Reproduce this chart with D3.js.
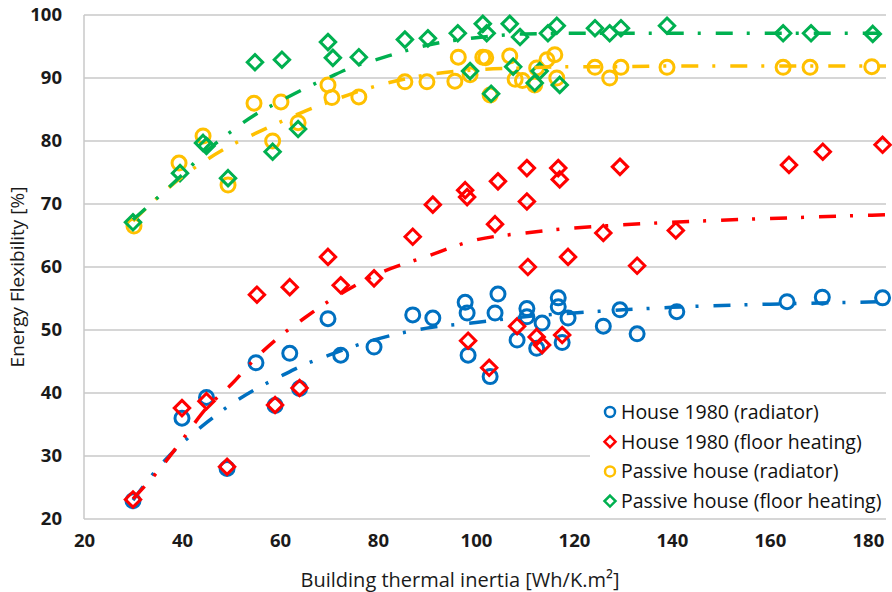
<!DOCTYPE html>
<html>
<head>
<meta charset="utf-8">
<script src="https://cdn.jsdelivr.net/npm/d3@7"></script>
<style>
  body { margin: 0; background: #fff; }
  svg { display: block; font-family: "Open Sans", sans-serif; }
</style>
</head>
<body>
<div id="chart"></div>
<script>
// Werte
const seriesNames = ["House 1980 (radiator)", "House 1980 (floor heating)", "Passive house (radiator)", "Passive house (floor heating)"];
const seriesColors = ["#0070C0", "#FF0000", "#FFC000", "#00B050"];
const seriesShapes = ["circle", "diamond", "circle", "diamond"];

const xTicks = [20, 40, 60, 80, 100, 120, 140, 160, 180];
const yTicks = [20, 30, 40, 50, 60, 70, 80, 90, 100];

// House 1980 (radiator)
const blueX = [30, 40, 45, 49.2, 55.1, 59, 62, 64, 69.8, 72.4, 79.2, 87.1, 91.2, 97.8, 98.2, 98.4, 104.5, 103.9, 102.9, 110.4, 110.4, 108.4, 113.5, 112.4, 116.8, 116.8, 118.8, 117.6, 126, 129.4, 132.9, 141, 163.5, 170.7, 183];
const blueY = [22.9, 36, 39.3, 28, 44.8, 38, 46.3, 40.7, 51.8, 46, 47.3, 52.4, 51.9, 54.4, 52.7, 46, 55.7, 52.7, 42.6, 53.4, 52.1, 48.4, 51.1, 47.1, 55.1, 53.7, 51.9, 48, 50.6, 53.2, 49.4, 52.9, 54.5, 55.2, 55.1];

// House 1980 (floor heating)
const redX = [30, 40, 45, 49.2, 55.3, 59, 62, 64, 69.8, 72.4, 79.2, 87.1, 91.2, 97.8, 98.2, 98.4, 104.5, 103.9, 102.7, 110.4, 110.4, 110.6, 108.4, 113.5, 112.4, 116.8, 117.1, 118.8, 117.6, 126, 129.4, 132.9, 140.8, 163.9, 170.8, 183];
const redY = [23.1, 37.6, 38.7, 28.3, 55.6, 38.1, 56.8, 40.8, 61.6, 57.1, 58.2, 64.8, 69.9, 72.2, 71.1, 48.3, 73.6, 66.8, 44, 75.7, 70.4, 60, 50.6, 47.6, 48.9, 75.7, 73.9, 61.6, 49.2, 65.4, 75.9, 60.2, 65.8, 76.2, 78.3, 79.4];

// Passive house (radiator)
const yellowX = [30.2, 39.4, 44.3, 49.4, 54.7, 58.5, 60.2, 63.7, 69.8, 70.6, 76.1, 85.5, 90, 95.7, 96.4, 98.8, 101.4, 102, 102.9, 106.9, 108, 109.5, 112, 112.4, 114.5, 116.1, 116.5, 124.3, 127.3, 129.6, 139, 162.7, 168.2, 180.8];
const yellowY = [66.5, 76.5, 80.8, 73, 86, 80, 86.2, 82.9, 88.9, 86.9, 87, 89.4, 89.4, 89.5, 93.3, 90.5, 93.3, 93.2, 87.3, 93.5, 89.8, 89.6, 88.9, 91.6, 92.9, 93.7, 90, 91.7, 90, 91.7, 91.7, 91.7, 91.7, 91.8];

// Passive house (floor heating)
const greenX = [30, 39.6, 44.3, 45, 49.4, 54.9, 58.5, 60.4, 63.7, 69.8, 70.8, 76.1, 85.5, 90.2, 96.3, 98.8, 101.4, 102.2, 103.1, 106.9, 107.6, 109, 112, 113, 114.7, 116.5, 117.1, 124.3, 127.3, 129.6, 139, 162.7, 168.4, 181];
const greenY = [67.1, 74.9, 79.7, 79.2, 74.1, 92.5, 78.3, 92.9, 81.9, 95.7, 93.2, 93.3, 96.1, 96.3, 97.1, 91.1, 98.6, 97.1, 87.5, 98.6, 91.8, 96.5, 89.2, 91.1, 97.1, 98.3, 88.9, 97.9, 97.1, 97.9, 98.3, 97.1, 97.1, 97];

// Trendlinien (Punkte)
const trendX = [30, 35, 40, 45, 50, 55, 60, 65, 70, 75, 80, 90, 100, 110, 120, 130, 140, 160, 183.7];
const blueTrend = [23, 28, 32, 35.3, 38.2, 40.6, 42.6, 44.5, 46, 47.4, 48.6, 50.3, 51.2, 52.1, 52.7, 53.2, 53.6, 54.1, 54.5];
const redTrend = [23.2, 27.5, 32.5, 37.6, 41.3, 45.5, 49, 51.9, 54.6, 56.9, 58.9, 61.7, 64.3, 65.4, 66.2, 66.7, 67.1, 67.7, 68.3];
const yellowTrend = [67.3, 71, 74.3, 77, 79.3, 81.2, 83, 84.7, 86.2, 87.6, 88.8, 90.5, 91.3, 91.6, 91.8, 91.8, 91.9, 91.9, 91.9];
const greenTrend = [67.5, 71, 74.6, 78.4, 81.5, 84.2, 86.3, 88.3, 90.1, 91.8, 93, 95.2, 96.4, 97, 97.1, 97.1, 97.1, 97.1, 97.1];

const xs = [blueX, redX, yellowX, greenX];
const ys = [blueY, redY, yellowY, greenY];
const trends = [blueTrend, redTrend, yellowTrend, greenTrend];

const width = 892, height = 592;
const margin = { top: 15, right: 6, bottom: 73, left: 84 };

const svg = d3.select("#chart").append("svg")
    .attr("width", width)
    .attr("height", height);

const x = d3.scaleLinear().domain([20, 183.7]).range([margin.left, width - margin.right]);
const y = d3.scaleLinear().domain([20, 100]).range([height - margin.bottom, margin.top]);

// Gitterlinien
svg.append("g")
    .selectAll("line")
    .data(yTicks)
    .join("line")
    .attr("x1", x(20))
    .attr("x2", x(183.7))
    .attr("y1", d => y(d))
    .attr("y2", d => y(d))
    .attr("stroke", "#c8c8c8")
    .attr("stroke-width", 1.5);

svg.append("line")
    .attr("x1", x(20)).attr("x2", x(20))
    .attr("y1", y(20)).attr("y2", y(100))
    .attr("stroke", "#c8c8c8")
    .attr("stroke-width", 1.5);

// Achsen
const yAxis = svg.append("g")
    .attr("transform", `translate(${x(20)},0)`)
    .call(d3.axisLeft(y).tickValues(yTicks).tickSize(0).tickPadding(22));
const xAxis = svg.append("g")
    .attr("transform", `translate(0,${y(20)})`)
    .call(d3.axisBottom(x).tickValues(xTicks).tickSize(0).tickPadding(15));

[yAxis, xAxis].forEach(a => {
    a.select(".domain").remove();
    a.selectAll("text")
        .attr("font-family", "'Open Sans', sans-serif")
        .attr("font-size", 18.5)
        .attr("font-weight", "bold")
        .attr("fill", "#1a1a1a");
});

// Achsentitel
svg.append("text")
    .attr("x", 460)
    .attr("y", 587)
    .attr("text-anchor", "middle")
    .attr("font-size", 20)
    .attr("fill", "#1a1a1a")
    .text("Building thermal inertia [Wh/K.m²]");

svg.append("text")
    .attr("transform", `translate(24,277) rotate(-90)`)
    .attr("text-anchor", "middle")
    .attr("font-size", 19)
    .attr("fill", "#1a1a1a")
    .text("Energy Flexibility [%]");

// Marker
function drawMarker(g, shape, color, cx, cy, r, sw) {
    if (shape === "circle") {
        g.append("circle")
            .attr("cx", cx).attr("cy", cy).attr("r", r)
            .attr("fill", "none")
            .attr("stroke", color)
            .attr("stroke-width", sw);
    } else {
        const s = r * 1.1;
        g.append("path")
            .attr("d", `M${cx},${cy - s}L${cx + s},${cy}L${cx},${cy + s}L${cx - s},${cy}Z`)
            .attr("fill", "none")
            .attr("stroke", color)
            .attr("stroke-width", sw);
    }
}

const points = svg.append("g");
xs.forEach((sx, i) => {
    const g = points.append("g");
    sx.forEach((v, j) => drawMarker(g, seriesShapes[i], seriesColors[i], x(v), y(ys[i][j]), 7, 3));
});

// Trendlinien
const line = d3.line()
    .x((d, i) => x(trendX[i]))
    .y(d => y(d))
    .curve(d3.curveMonotoneX);

svg.append("g")
    .selectAll("path")
    .data(trends)
    .join("path")
    .attr("d", d => line(d))
    .attr("fill", "none")
    .attr("stroke", (d, i) => seriesColors[i])
    .attr("stroke-width", 3.5)
    .attr("stroke-dasharray", "17,14,3,15");

// Legende
const legend = svg.append("g");
legend.append("rect")
    .attr("x", 590).attr("y", 397)
    .attr("width", 298).attr("height", 118)
    .attr("fill", "#fff");

seriesNames.forEach((name, i) => {
    const ly = 412 + i * 29.7;
    drawMarker(legend, seriesShapes[i], seriesColors[i], 610, ly, 5, 2.5);
    legend.append("text")
        .attr("x", 621)
        .attr("y", ly)
        .attr("dy", "0.36em")
        .attr("font-size", 19.5)
        .attr("fill", "#111")
        .text(name);
});
</script>
</body>
</html>
